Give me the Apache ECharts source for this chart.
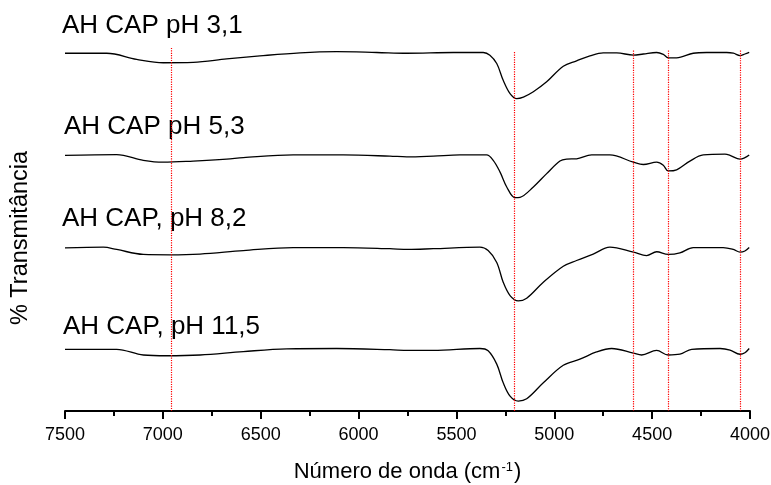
<!DOCTYPE html>
<html>
<head>
<meta charset="utf-8">
<script src="https://cdn.jsdelivr.net/npm/echarts@6/dist/echarts.min.js"></script>
<style>
html,body{margin:0;padding:0;background:#fff;}
#chart{width:771px;height:485px;}
</style>
</head>
<body>
<div id="chart"></div>
<script>
// Wavenumbers (cm-1) and transmittance (offset, a.u.) for each spectrum
var wn_pH31 = [7500,7287,7134,6998,6845,6674,6504,6299,6112,5907,5754,5516,5363,5329,5294,5261,5226,5192,5158,5107,5039,4954,4886,4818,4750,4681,4596,4545,4477,4443,4418,4375,4290,4222,4119,4085,4051,4026,4004];
var T_pH31  = [93.9,93.9,92.3,91.4,91.5,92.4,93.2,94.0,94.3,94.1,93.9,94.1,94.1,93.4,91.2,86.8,83.3,82.0,82.4,83.8,86.4,90.5,91.9,93.2,94.0,94.0,93.4,93.7,94.1,93.6,92.7,92.7,93.9,94.1,94.1,93.9,93.3,93.7,94.1];

var wn_pH53 = [7500,7236,7100,6998,6845,6674,6589,6334,6078,5840,5754,5618,5482,5346,5312,5277,5243,5201,5175,5107,5039,4971,4937,4886,4809,4716,4596,4545,4477,4443,4418,4375,4307,4239,4128,4102,4051,4026,4004];
var T_pH53  = [67.1,67.3,65.8,65.3,65.6,66.1,66.5,67.2,67.2,66.9,66.7,66.9,67.2,67.2,65.8,62.7,58.8,56.0,56.1,58.8,62.3,65.6,66.1,66.2,67.2,67.2,65.3,64.7,65.3,64.5,63.0,63.3,65.6,67.2,67.4,67.1,66.1,66.5,67.2];

var wn_pH82 = [7500,7304,7236,7100,6964,6810,6589,6334,6078,5840,5746,5618,5380,5338,5294,5261,5226,5184,5141,5056,4954,4886,4801,4716,4596,4528,4477,4418,4358,4290,4137,4085,4051,4026,4004];
var T_pH82  = [42.8,43.0,42.4,41.1,41.0,41.2,42.1,42.9,42.9,42.6,42.4,42.6,43.0,42.1,39.0,33.8,30.3,28.9,29.6,33.8,38.0,39.5,41.2,43.0,41.7,40.8,41.8,41.1,41.5,42.9,42.9,42.4,41.7,42.0,42.9];

var wn_pH115 = [7500,7236,7100,6980,6810,6589,6367,6112,5840,5746,5618,5380,5338,5294,5261,5226,5184,5141,5056,4954,4869,4784,4707,4596,4554,4477,4418,4358,4298,4153,4102,4051,4026,4004];
var T_pH115  = [16.2,16.2,14.7,14.5,14.7,15.6,16.3,16.4,16.1,15.9,15.9,16.4,15.8,12.3,7.4,3.9,2.6,3.2,7.4,12.0,13.6,15.5,16.4,15.2,14.7,15.9,14.7,14.9,16.2,16.4,16.0,14.9,15.3,16.4];

var seriesNames = ['AH CAP pH 3,1','AH CAP pH 5,3','AH CAP, pH 8,2','AH CAP, pH 11,5'];

// Reference (dotted) lines: wavenumber and top value
var refLinePos = [6955, 5205, 4595, 4418, 4050];
var refLineTop = [95.3, 94.2, 94.6, 94.6, 94.6];

var xMin = 4000, xMax = 7500, xStep = 500;

function pairs(xs, ys){ return xs.map(function(x,i){ return [x, ys[i]]; }); }

var FONT = "'Liberation Sans', Arial, Helvetica, sans-serif";
var chart = echarts.init(document.getElementById('chart'), null, {renderer:'canvas'});

var lineStyle = {color:'#000', width:1.3};
var mk = refLinePos.map(function(x,i){ return [{coord:[x, refLineTop[i]]},{coord:[x, 0]}]; });

var dataSets = [pairs(wn_pH31,T_pH31), pairs(wn_pH53,T_pH53), pairs(wn_pH82,T_pH82), pairs(wn_pH115,T_pH115)];

var series = dataSets.map(function(d, i){
  var s = {
    name: seriesNames[i], type:'line', data:d, smooth:0.35, showSymbol:false,
    lineStyle: lineStyle, itemStyle:{color:'#000'}, silent:true, animation:false, z:3
  };
  if(i===0){
    s.markLine = {
      silent:true, symbol:['none','none'], animation:false,
      label:{show:false},
      lineStyle:{color:'#ff0000', type:'dotted', width:1.2},
      data: mk
    };
  }
  return s;
});

var labelPos = [[62,26],[64,127],[62,219],[63,327]];

chart.setOption({
  animation:false,
  backgroundColor:'#fff',
  grid:{left:65, right:21, top:30, bottom:74, containLabel:false, outerBoundsMode:'none'},
  xAxis:{
    type:'value', min:xMin, max:xMax, interval:xStep, inverse:true,
    axisLine:{show:true, onZero:false, lineStyle:{color:'#000', width:2}},
    axisTick:{show:true, inside:false, length:8, lineStyle:{color:'#000', width:2}},
    minorTick:{show:true, splitNumber:2, length:5, lineStyle:{color:'#000', width:2}},
    splitLine:{show:false},
    axisLabel:{color:'#000', fontSize:18, fontFamily:FONT, margin:15,
      formatter:function(v){ return String(v); }},
    name:'{a|Número de onda (cm}{s|-1}{a|)}',
    nameLocation:'middle', nameGap:50,
    nameTextStyle:{
      rich:{
        a:{fontSize:22, fontFamily:FONT, color:'#000'},
        s:{fontSize:13, fontFamily:FONT, color:'#000', verticalAlign:'top', padding:[0,1,0,1]}
      }
    }
  },
  yAxis:{
    type:'value', min:0, max:100,
    show:true,
    axisLine:{show:false}, axisTick:{show:false}, axisLabel:{show:false}, splitLine:{show:false}
  },
  graphic: [
    {type:'text', x:21, y:238, rotation:Math.PI/2,
     style:{text:'% Transmitância', fontSize:23.5, fontFamily:FONT, fill:'#000', align:'center', verticalAlign:'middle'}}
  ].concat(seriesNames.map(function(n,i){
    return {type:'text', x:labelPos[i][0], y:labelPos[i][1],
      style:{text:n, fontSize:26, fontFamily:FONT, fill:'#000', align:'left', verticalAlign:'middle'}};
  })),
  series: series
});
</script>
</body>
</html>
